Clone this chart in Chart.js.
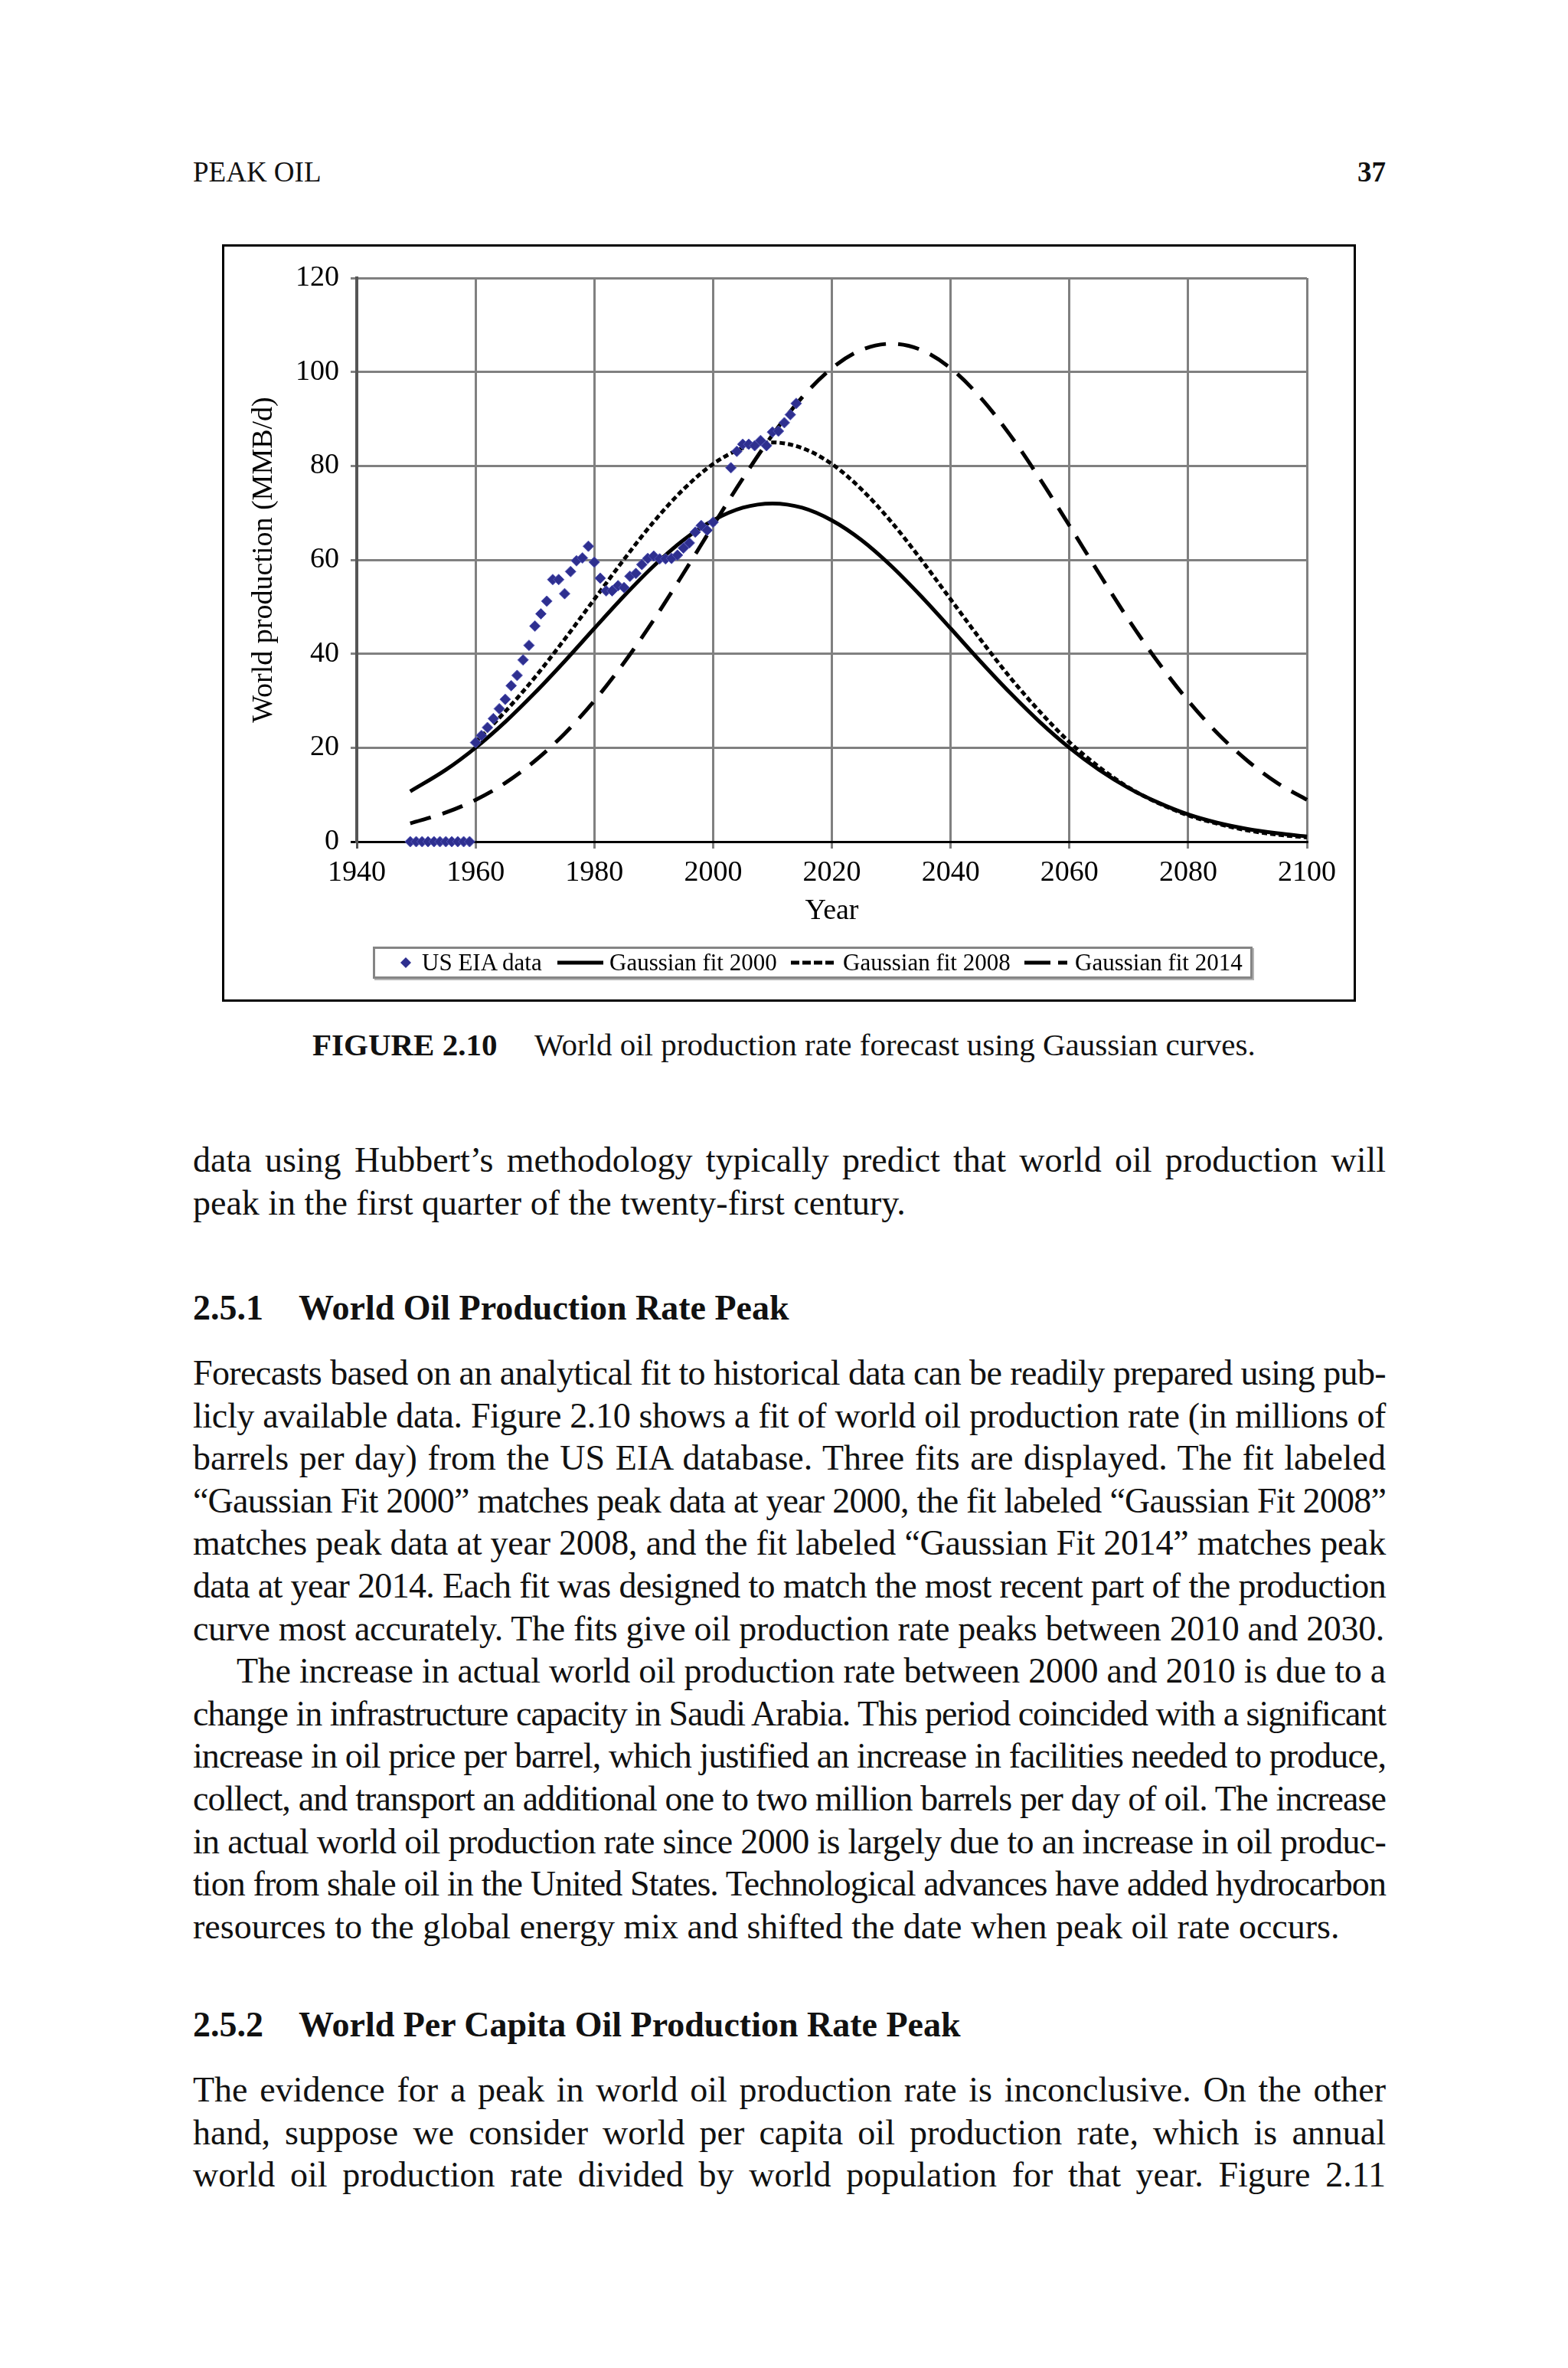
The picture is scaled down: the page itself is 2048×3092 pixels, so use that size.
<!DOCTYPE html>
<html><head><meta charset="utf-8">
<script src="https://cdn.jsdelivr.net/npm/chart.js@4.4.1/dist/chart.umd.min.js"></script>
<style>
html,body{margin:0;padding:0;background:#fff;}
body{width:2048px;height:3092px;position:relative;overflow:hidden;font-family:'Liberation Serif','Times New Roman',serif;color:#111;}
.hdr{position:absolute;top:203px;font-size:37px;line-height:44px;}
#chartbox{position:absolute;left:290px;top:319px;width:1481px;height:989px;box-sizing:border-box;border:3px solid #000;}
#chartbox canvas{position:absolute;left:0;top:0;}
#legend{position:absolute;left:487px;top:1236px;width:1149px;height:42px;box-sizing:border-box;border:3px solid #858585;box-shadow:2px 2px 0 #b5b5b5;font-size:31px;color:#000;}
.li{position:absolute;top:0;line-height:36px;white-space:nowrap;}
.sw{position:absolute;top:0;}
.caption{position:absolute;top:1339px;font-size:41px;line-height:50px;white-space:nowrap;}
.para{position:absolute;left:252px;width:1558px;font-size:46px;line-height:55.6px;}
.ln{text-align:justify;text-align-last:justify;}
.ln.last{text-align:left;text-align-last:left;}
.ln.ind{padding-left:57px;}
.head{position:absolute;left:252px;font-size:46px;line-height:55.6px;font-weight:bold;white-space:nowrap;}
.head .num{display:inline-block;width:138px;}
</style></head>
<body>
<div class="hdr" style="left:252px;">PEAK OIL</div>
<div class="hdr" style="left:1700px;width:110px;text-align:right;font-weight:bold;">37</div>

<div id="chartbox"><canvas id="c" width="1475" height="983"></canvas></div>

<div id="legend">
  <svg class="sw" style="left:32px" width="16" height="36"><polygon points="8,11 15,18 8,25 1,18" fill="#2e2f8f"/></svg>
  <div class="li" style="left:61px">US EIA data</div>
  <svg class="sw" style="left:238px" width="60" height="36"><line x1="0" y1="18" x2="60" y2="18" stroke="#000" stroke-width="5"/></svg>
  <div class="li" style="left:306px">Gaussian fit 2000</div>
  <svg class="sw" style="left:543px" width="60" height="36"><line x1="0" y1="18" x2="60" y2="18" stroke="#000" stroke-width="5" stroke-dasharray="11 4"/></svg>
  <div class="li" style="left:611px">Gaussian fit 2008</div>
  <svg class="sw" style="left:848px" width="56" height="36"><line x1="0" y1="18" x2="56" y2="18" stroke="#000" stroke-width="5" stroke-dasharray="34 10"/></svg>
  <div class="li" style="left:914px">Gaussian fit 2014</div>
</div>

<div class="caption" style="left:408px;"><b>FIGURE 2.10</b></div>
<div class="caption" style="left:698px;">World oil production rate forecast using Gaussian curves.</div>

<div class="para" style="top:1487px;">
<div class="ln">data using Hubbert’s methodology typically predict that world oil production will</div>
<div class="ln last">peak in the first quarter of the twenty-first century.</div>
</div>

<div class="head" style="top:1680px;"><span class="num">2.5.1</span>World Oil Production Rate Peak</div>

<div class="para" style="top:1765px;">
<div class="ln">Forecasts based on an analytical fit to historical data can be readily prepared using pub-</div>
<div class="ln">licly available data. Figure 2.10 shows a fit of world oil production rate (in millions of</div>
<div class="ln">barrels per day) from the US EIA database. Three fits are displayed. The fit labeled</div>
<div class="ln">“Gaussian Fit 2000” matches peak data at year 2000, the fit labeled “Gaussian Fit 2008”</div>
<div class="ln">matches peak data at year 2008, and the fit labeled “Gaussian Fit 2014” matches peak</div>
<div class="ln">data at year 2014. Each fit was designed to match the most recent part of the production</div>
<div class="ln last">curve most accurately. The fits give oil production rate peaks between 2010 and 2030.</div>
<div class="ln ind">The increase in actual world oil production rate between 2000 and 2010 is due to a</div>
<div class="ln">change in infrastructure capacity in Saudi Arabia. This period coincided with a significant</div>
<div class="ln">increase in oil price per barrel, which justified an increase in facilities needed to produce,</div>
<div class="ln">collect, and transport an additional one to two million barrels per day of oil. The increase</div>
<div class="ln">in actual world oil production rate since 2000 is largely due to an increase in oil produc-</div>
<div class="ln">tion from shale oil in the United States. Technological advances have added hydrocarbon</div>
<div class="ln last">resources to the global energy mix and shifted the date when peak oil rate occurs.</div>
</div>

<div class="head" style="top:2616px;"><span class="num">2.5.2</span>World Per Capita Oil Production Rate Peak</div>

<div class="para" style="top:2701px;">
<div class="ln">The evidence for a peak in world oil production rate is inconclusive. On the other</div>
<div class="ln">hand, suppose we consider world per capita oil production rate, which is annual</div>
<div class="ln">world oil production rate divided by world population for that year. Figure 2.11</div>
</div>

<script>
// ---- data ----
const eiaYears = [1949,1950,1951,1952,1953,1954,1955,1956,1957,1958,1959,
  1960,1961,1962,1963,1964,1965,1966,1967,1968,1969,
  1970,1971,1972,1973,1974,1975,1976,1977,1978,1979,
  1980,1981,1982,1983,1984,1985,1986,1987,1988,1989,
  1990,1991,1992,1993,1994,1995,1996,1997,1998,1999,2000,
  2003,2004,2005,2006,2007,2008,2009,2010,2011,2012,2013,2014];
const eiaValues = [0,0,0,0,0,0,0,0,0,0,0,
  21.1,22.6,24.3,26.2,28.3,30.3,33.2,35.4,38.7,41.8,
  45.9,48.5,51.2,55.8,55.8,52.8,57.5,59.8,60.4,62.9,
  59.5,56.1,53.4,53.4,54.5,54.1,56.5,57.1,59.0,60.3,
  60.8,60.2,60.2,60.3,61.0,62.5,63.6,65.9,67.3,66.3,68.0,
  79.6,83.1,84.6,84.6,84.3,85.4,84.3,87.2,87.4,89.2,90.9,93.3];

const fitYearsA = [1949,1955,1960,1965,1970,1975,1980,1985,1990,1995,2000,2005,2010,2015,2020,2025,
  2030,2035,2040,2045,2050,2055,2060,2065,2070,2075,2080,2085,2090,2095,2100];
const fit2000 = [10.7,15.3,20.0,25.5,31.7,38.4,45.4,52.3,58.7,64.2,68.4,71.1,72.0,71.1,68.4,64.2,
  58.7,52.3,45.4,38.4,31.7,25.5,20.0,15.3,11.4,8.3,5.8,4.0,2.7,1.8,1.1];
const fit2014 = [3.9,6.2,8.9,12.5,17.2,23.0,30.0,38.1,47.2,57.1,67.3,77.3,86.6,94.6,100.8,104.7,
  106.0,104.7,100.8,94.6,86.6,77.3,67.3,57.1,47.2,38.1,30.0,23.0,17.2,12.5,8.9];

const fitYearsB = [1960,1965,1970,1975,1980,1985,1990,1995,2000,2005,2010,2015,2020,2025,
  2030,2035,2040,2045,2050,2055,2060,2065,2070,2075,2080,2085,2090,2095,2100];
const fit2008 = [21.2,27.7,35.0,43.1,51.6,60.1,68.1,75.0,80.4,83.8,85.0,83.8,80.4,75.0,
  68.1,60.1,51.6,43.1,35.0,27.7,21.2,15.9,11.5,8.2,5.6,3.8,2.4,1.5,0.9];

const xTickValues = [1940,1960,1980,2000,2020,2040,2060,2080,2100];
const yTickValues = [0,20,40,60,80,100,120];

const seriesNames = ['US EIA data','Gaussian fit 2000','Gaussian fit 2008','Gaussian fit 2014'];

// ---- chart ----
const F = "'Liberation Serif','Times New Roman',serif";
const pts = (xs, ys) => xs.map((x, i) => ({x: x, y: ys[i]}));
const lineBase = {showLine: true, borderColor: '#000', backgroundColor: '#000', borderWidth: 5,
  pointRadius: 0, cubicInterpolationMode: 'monotone', fill: false, clip: false};

new Chart(document.getElementById('c'), {
  type: 'scatter',
  data: {
    datasets: [
      {label: seriesNames[0], data: pts(eiaYears, eiaValues), showLine: false, pointStyle: 'rectRot',
       pointRadius: 7, backgroundColor: '#2e2f8f', borderColor: '#5052b4', borderWidth: 1, clip: false},
      Object.assign({label: seriesNames[1], data: pts(fitYearsA, fit2000)}, lineBase),
      Object.assign({label: seriesNames[2], data: pts(fitYearsB, fit2008), borderDash: [7, 4]}, lineBase),
      Object.assign({label: seriesNames[3], data: pts(fitYearsA, fit2014), borderDash: [28, 16]}, lineBase)
    ]
  },
  options: {
    responsive: false, animation: false, devicePixelRatio: 1,
    layout: {padding: {left: 0, right: 61, top: 41, bottom: 92}},
    plugins: {legend: {display: false}, tooltip: {enabled: false}},
    scales: {
      x: {
        type: 'linear', min: 1940, max: 2100,
        afterBuildTicks: s => { s.ticks = xTickValues.map(v => ({value: v})); },
        ticks: {callback: v => String(v), color: '#000', font: {family: F, size: 38}, padding: 9,
                maxRotation: 0, autoSkip: false},
        grid: {color: c => (c.tick && c.tick.value === 1940) ? '#555' : '#808080', lineWidth: 3, tickLength: 9},
        border: {color: '#000', width: 3},
        title: {display: true, text: 'Year', color: '#000', font: {family: F, size: 38}, padding: {top: 0, bottom: 0}},
        afterFit: s => { s.height = 114; }
      },
      y: {
        type: 'linear', min: 0, max: 120,
        afterBuildTicks: s => { s.ticks = yTickValues.map(v => ({value: v})); },
        ticks: {color: '#000', font: {family: F, size: 38}, padding: 15},
        grid: {color: c => (c.tick && c.tick.value === 0) ? '#000' : '#808080', lineWidth: 3, tickLength: 8},
        border: {color: '#555', width: 4},
        title: {display: true, text: 'World production (MMB/d)', color: '#000', font: {family: F, size: 38},
                padding: {top: 29, bottom: 0}},
        afterFit: s => { s.width = 173; }
      }
    }
  }
});

// fit justified lines that are naturally too wide
document.querySelectorAll('.ln').forEach(el => {
  const cs = getComputedStyle(el);
  const avail = el.clientWidth - parseFloat(cs.paddingLeft) - parseFloat(cs.paddingRight);
  const m = document.createElement('span');
  m.style.whiteSpace = 'nowrap'; m.style.font = cs.font; m.style.position = 'absolute'; m.style.visibility = 'hidden';
  m.textContent = el.textContent;
  document.body.appendChild(m);
  const w = m.getBoundingClientRect().width;
  m.remove();
  if (w > avail - 1) {
    el.style.letterSpacing = ((avail - 2 - w) / el.textContent.length) + 'px';
  }
});
</script>
</body></html>
